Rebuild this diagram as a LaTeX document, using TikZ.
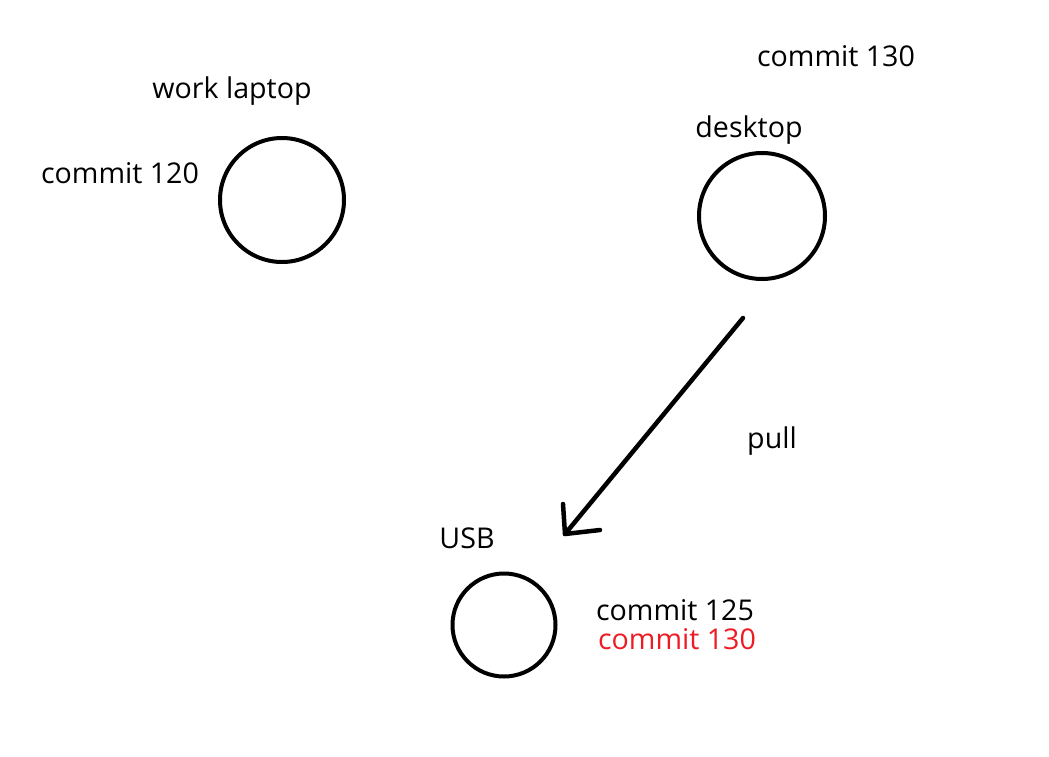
\documentclass[tikz,border=0pt]{standalone}
\usepackage{fontspec}
\setmainfont{Open Sans}
\definecolor{paintred}{RGB}{237,28,36}
\begin{document}
\begin{tikzpicture}[x=1pt,y=-1pt,
  repo/.style={circle,draw=black,line width=4pt,inner sep=0pt},
  lbl/.style={font=\fontsize{28.6}{32}\selectfont,inner sep=0pt,anchor=center},
  conn/.style={line width=4.5pt,line cap=round,line join=round}]
\useasboundingbox (0,0) rectangle (1049,757);
\fill[white] (0,0) rectangle (1049,757);
\node[repo,minimum size=124pt] (laptop) at (282,200) {};
\node[repo,minimum size=126pt] (desktop) at (762,216) {};
\node[repo,minimum size=103pt] (usb) at (504,625) {};
\node[lbl] (tlaptop) at (232,91) {work laptop};
\node[lbl] (c120) at (120,173) {commit 120};
\node[lbl] (c130top) at (836,56) {commit 130};
\node[lbl] (tdesk) at (749,130) {desktop};
\node[lbl] (tpull) at (772,441) {pull};
\node[lbl] (tusb) at (467,538) {USB};
\node[lbl] (c125) at (675,610) {commit 125};
\node[lbl,text=paintred] (c130red) at (677,639) {commit 130};
\coordinate (astart) at (743,318);
\coordinate (atip) at (565,534);
\coordinate (arm1) at (563,504);
\coordinate (arm2) at (600,530);
\draw[conn] (astart) -- (atip);
\draw[conn] (arm1) -- (atip) -- (arm2);
\end{tikzpicture}
\end{document}
